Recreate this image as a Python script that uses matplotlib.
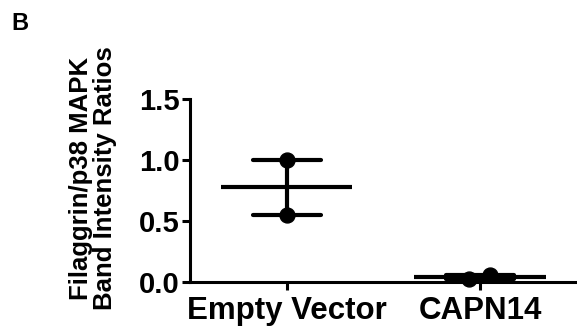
import numpy as np
import matplotlib
matplotlib.use("Agg")
import matplotlib.pyplot as plt

plt.rcParams['font.family'] = ['Liberation Sans', 'DejaVu Sans']
plt.rcParams['font.weight'] = 'bold'

categories = ["Empty Vector", "CAPN14"]
empty_vector = [1.00, 0.55]
capn14 = [0.02, 0.06]
jitter = [[0.0, 0.0], [-0.06, 0.05]]
yticks = [0.0, 0.5, 1.0, 1.5]
ylabel = "Filaggrin/p38 MAPK\nBand Intensity Ratios"

fig = plt.figure(figsize=(5.77, 3.34), dpi=100)
ax = fig.add_axes([0.329, 0.156, 0.671, 0.548])

groups = [empty_vector, capn14]
for i, vals in enumerate(groups):
    vals = np.array(vals)
    m = vals.mean()
    sem = vals.std(ddof=1) / np.sqrt(len(vals))
    ax.hlines(m, i - 0.34, i + 0.34, color='black', lw=3, zorder=2)
    ax.vlines(i, m - sem, m + sem, color='black', lw=3, zorder=2)
    ax.hlines([m - sem, m + sem], i - 0.175, i + 0.175, color='black', lw=3,
              capstyle='round', zorder=2)
    ax.scatter(np.array(jitter[i]) + i, vals, s=115, color='black', zorder=3,
               clip_on=False)

ax.set_xlim(-0.5, 1.5)
ax.set_ylim(0, 1.5)
ax.set_xticks(range(len(categories)))
ax.set_xticklabels(categories, fontsize=22.5, fontweight='bold')
ax.set_yticks(yticks)
ax.set_yticklabels([f"{t:.1f}" for t in yticks], fontsize=21, fontweight='bold')
for s in ['top', 'right']:
    ax.spines[s].set_visible(False)
for s in ['left', 'bottom']:
    ax.spines[s].set_linewidth(2.2)
ax.tick_params(width=2.2, length=6)
ax.tick_params(axis='y', pad=1)
ax.tick_params(axis='x', pad=4)

fig.text(93 / 577, 1 - 178 / 334, ylabel, rotation=90, ha='center', va='center',
         fontsize=18.5, fontweight='bold', linespacing=0.95, multialignment='center')
fig.text(0.02, 1 - 12 / 334, "B", fontsize=17, fontweight='bold', va='top')
fig.savefig("out.png", dpi=100)
